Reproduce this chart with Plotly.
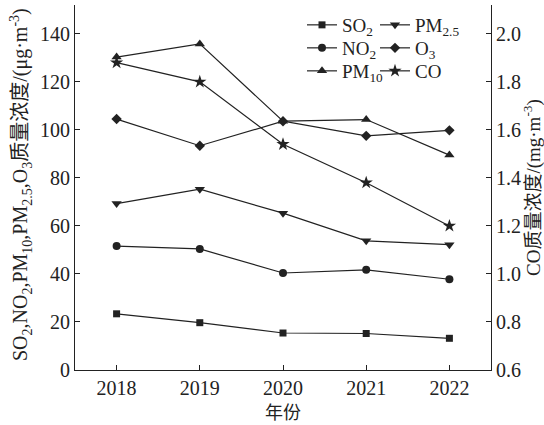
import plotly.graph_objects as go

years = [2018, 2019, 2020, 2021, 2022]

# pollutant concentrations, μg·m^-3
so2 = [23.4, 19.7, 15.4, 15.2, 13.2]
no2 = [51.6, 50.4, 40.4, 41.7, 37.8]
pm10 = [130.3, 135.8, 103.6, 104.3, 89.5]
pm25 = [69.3, 75.3, 65.3, 53.8, 52.2]
o3 = [104.5, 93.4, 103.6, 97.5, 99.8]
# CO concentration, mg·m^-3
co = [1.88, 1.80, 1.54, 1.38, 1.20]

left_ticks = [0, 20, 40, 60, 80, 100, 120, 140]
right_ticks = [0.6, 0.8, 1.0, 1.2, 1.4, 1.6, 1.8, 2.0]

FONT = "'Liberation Serif', 'Noto Sans CJK SC', serif"
INK = "#222222"

# plot area in pixels (used to place legend rows)
W, H = 544, 425
ML, MR, MT, MB = 75, 53, 5, 55
PW, PH = W - ML - MR, H - MT - MB

series = [
    # name, values, marker symbol, marker size, axis, legend column, legend row
    ("SO<sub>2</sub>", so2, "square", 7, "y", 0, 0),
    ("NO<sub>2</sub>", no2, "circle", 8, "y", 0, 1),
    ("PM<sub>10</sub>", pm10, "triangle-up", 9, "y", 0, 2),
    ("PM<sub>2.5</sub>", pm25, "triangle-down", 9, "y", 1, 0),
    ("O<sub>3</sub>", o3, "diamond", 8, "y", 1, 1),
    ("CO", co, "star", 10, "y2", 1, 2),
]

col_px = [302, 375]
row_px = [25, 48, 71]

fig = go.Figure()
legends = {}
for i, (name, vals, sym, size, axis, col, row) in enumerate(series):
    key = "legend" if i == 0 else f"legend{i + 1}"
    fig.add_trace(go.Scatter(
        x=years, y=vals, name=name, mode="lines+markers",
        yaxis=axis, legend=key, showlegend=True,
        line=dict(color=INK, width=1.2),
        marker=dict(symbol=sym, size=size, color=INK, line=dict(width=0)),
    ))
    legends[key] = dict(
        x=(col_px[col] - ML) / PW, y=1 - (row_px[row] - MT) / PH,
        xanchor="left", yanchor="middle", visible=True,
        font=dict(family=FONT, size=19, color=INK),
        bgcolor="rgba(0,0,0,0)", borderwidth=0, itemwidth=30,
    )

axis_common = dict(
    showline=True, linecolor=INK, linewidth=1.2,
    ticks="inside", ticklen=5, tickwidth=1.2, tickcolor=INK,
    showgrid=False, zeroline=False,
    tickfont=dict(family=FONT, size=20, color=INK),
)

fig.update_layout(
    width=W, height=H,
    margin=dict(l=ML, r=MR, t=MT, b=MB),
    paper_bgcolor="white", plot_bgcolor="white",
    font=dict(family=FONT, color=INK),
    showlegend=True,
    xaxis=dict(
        range=[2017.5, 2022.5], tickvals=years,
        title=dict(text="年份", font=dict(family=FONT, size=18, color=INK), standoff=8),
        **axis_common,
    ),
    yaxis=dict(range=[0, 152], tickvals=left_ticks, **axis_common),
    yaxis2=dict(
        range=[0.6, 2.12], tickvals=right_ticks, tickformat=".1f",
        overlaying="y", side="right", **axis_common,
    ),
    **legends,
)

# rotated axis titles
fig.add_annotation(
    text="SO<sub>2</sub>,NO<sub>2</sub>,PM<sub>10</sub>,PM<sub>2.5</sub>,O<sub>3</sub>质量浓度/(μg·m<sup>-3</sup>)",
    xref="paper", yref="paper", x=(21 - ML) / PW, y=1 - (185 - MT) / PH,
    xanchor="center", yanchor="middle", textangle=-90, showarrow=False,
    font=dict(family=FONT, size=20, color=INK),
)
fig.add_annotation(
    text="CO质量浓度/(mg·m<sup>-3</sup>)",
    xref="paper", yref="paper", x=(532 - ML) / PW, y=1 - (188 - MT) / PH,
    xanchor="center", yanchor="middle", textangle=-90, showarrow=False,
    font=dict(family=FONT, size=19, color=INK),
)

fig.write_html("out.html")
